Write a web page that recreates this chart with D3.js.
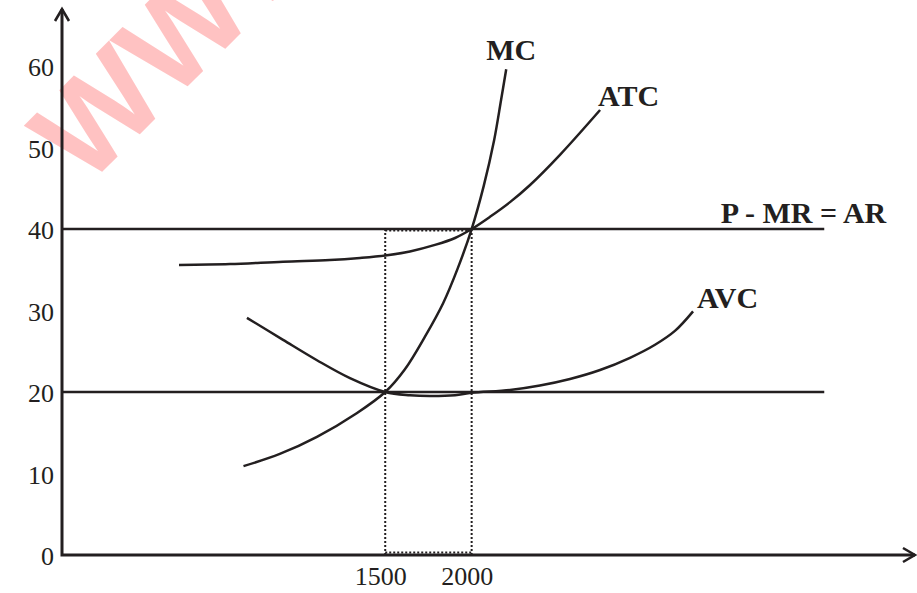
<!DOCTYPE html>
<html>
<head>
<meta charset="utf-8">
<script src="https://cdn.jsdelivr.net/npm/d3@7"></script>
<style>
  body { margin: 0; background: #fff; }
  svg { display: block; }
  .tick text { font-family: "Liberation Serif", "Times New Roman", serif; font-size: 26px; fill: #231f20; }
  .curve-label { font-family: "Liberation Serif", "Times New Roman", serif; font-size: 30px; font-weight: bold; fill: #231f20; }
</style>
</head>
<body>
<div id="chart"></div>
<script>
// tick labels
var priceTicks = [0, 10, 20, 30, 40, 50, 60];
var qtyTicks = [1500, 2000];

// price lines and the two marked quantities
var priceLevels = [40, 20];
var lineStart = -370;
var lineEnd = 4040;

// cost curves, quantity and price
var mcQty = [680, 890, 1105, 1335, 1500, 1614, 1730, 1835, 1920, 2000, 2070, 2130, 2170, 2200];
var mcPrice = [10.9, 12.4, 14.5, 17.4, 20, 22.8, 26.8, 30.9, 35.2, 40, 45.3, 50.9, 55.8, 59.6];

var atcQty = [307, 602, 909, 1180, 1354, 1500, 1643, 1788, 1904, 2000, 2106, 2222, 2338, 2511, 2743];
var atcPrice = [35.6, 35.7, 36.0, 36.2, 36.45, 36.75, 37.25, 38.05, 38.9, 40, 41.5, 43.3, 45.4, 49.1, 54.6];

var avcQty = [700, 909, 1105, 1296, 1500, 1643, 1759, 1904, 2000, 2222, 2395, 2569, 2743, 2916, 3061, 3176, 3281];
var avcPrice = [29.1, 26.4, 23.9, 21.7, 20, 19.6, 19.5, 19.6, 19.9, 20.25, 20.8, 21.6, 22.7, 24.2, 25.8, 27.5, 29.9];

var labels = ["MC", "ATC", "AVC", "P - MR = AR"];

// svg
var width = 917;
var height = 593;
var ink = "#231f20";

var svg = d3
  .select("#chart")
  .append("svg")
  .attr("width", width)
  .attr("height", height);

// scales
var x = d3.scaleLinear().domain([-370, 4565]).range([62, 915]);
var y = d3.scaleLinear().domain([0, 67]).range([555, 9]);

// watermark
svg
  .append("text")
  .attr("transform", "translate(86,188) rotate(-45)")
  .attr("font-family", "Liberation Sans, Arial, sans-serif")
  .attr("font-weight", "bold")
  .attr("font-size", 128)
  .attr("fill", "#ffc2c2")
  .text("WWW");

// axes (ticks only, the arrows are drawn below)
var yAxis = d3.axisLeft(y).tickValues(priceTicks).tickSize(0).tickPadding(8);
var xAxis = d3.axisBottom(x).tickValues(qtyTicks).tickFormat(d3.format("d")).tickSize(0).tickPadding(12);

var yAxisGroup = svg.append("g").attr("transform", "translate(" + x(lineStart) + ",0)").call(yAxis);
yAxisGroup.select(".domain").remove();
yAxisGroup.selectAll("text").attr("dy", "0.38em");

var xAxisGroup = svg.append("g").attr("transform", "translate(0," + y(0) + ")").call(xAxis);
xAxisGroup.select(".domain").remove();
xAxisGroup.selectAll("text").attr("dx", "-5");

// dotted box between 1500 and 2000 up to the price line
var dotted = svg.append("g")
  .attr("fill", "none")
  .attr("stroke", ink)
  .attr("stroke-width", 2)
  .attr("stroke-dasharray", "2,2");

qtyTicks.forEach(function(q) {
  dotted.append("line")
    .attr("x1", x(q)).attr("x2", x(q))
    .attr("y1", y(0)).attr("y2", y(priceLevels[0]));
});
[0, priceLevels[0]].forEach(function(p) {
  var off = p === 0 ? -2.5 : 1.5;
  dotted.append("line")
    .attr("x1", x(qtyTicks[0])).attr("x2", x(qtyTicks[1]))
    .attr("y1", y(p) + off).attr("y2", y(p) + off);
});

// horizontal price lines
svg.selectAll(".price-line")
  .data(priceLevels)
  .enter()
  .append("line")
  .attr("class", "price-line")
  .attr("x1", x(lineStart))
  .attr("x2", x(lineEnd))
  .attr("y1", function(d) { return y(d); })
  .attr("y2", function(d) { return y(d); })
  .attr("stroke", ink)
  .attr("stroke-width", 2.4);

// axis lines with open arrow heads
var x0 = x(lineStart), xEnd = x.range()[1];
var y0 = y(0), yTop = y.range()[1];

svg.append("path")
  .attr("d", "M" + x0 + "," + (y0 + 1.5) + "V" + yTop + "M" + x0 + "," + y0 + "H" + xEnd)
  .attr("fill", "none")
  .attr("stroke", ink)
  .attr("stroke-width", 3);

svg.append("path")
  .attr("d",
    "M" + (x0 - 7) + "," + (yTop + 12) + "L" + x0 + "," + yTop + "L" + (x0 + 7) + "," + (yTop + 12) +
    "M" + (xEnd - 12) + "," + (y0 - 7) + "L" + xEnd + "," + y0 + "L" + (xEnd - 12) + "," + (y0 + 7))
  .attr("fill", "none")
  .attr("stroke", ink)
  .attr("stroke-width", 2.6)
  .attr("stroke-linejoin", "miter");

// cost curves
var curves = [
  { name: labels[0], qty: mcQty, price: mcPrice, dx: -20, dy: -9 },
  { name: labels[1], qty: atcQty, price: atcPrice, dx: -2, dy: -4 },
  { name: labels[2], qty: avcQty, price: avcPrice, dx: 4, dy: -3 }
];

var line = d3.line()
  .x(function(d) { return x(d[0]); })
  .y(function(d) { return y(d[1]); })
  .curve(d3.curveCatmullRom.alpha(0.5));

svg.selectAll(".curve")
  .data(curves)
  .enter()
  .append("path")
  .attr("class", "curve")
  .attr("d", function(d) { return line(d3.zip(d.qty, d.price)); })
  .attr("fill", "none")
  .attr("stroke", ink)
  .attr("stroke-width", 2.5);

// curve labels at the curve ends
svg.selectAll(".curve-label")
  .data(curves)
  .enter()
  .append("text")
  .attr("class", "curve-label")
  .attr("x", function(d) { return x(d.qty[d.qty.length - 1]) + d.dx; })
  .attr("y", function(d) { return y(d.price[d.price.length - 1]) + d.dy; })
  .text(function(d) { return d.name; });

svg.append("text")
  .attr("class", "curve-label")
  .attr("x", x(lineEnd) + 62)
  .attr("y", y(priceLevels[0]) - 6)
  .attr("text-anchor", "end")
  .text(labels[3]);
</script>
</body>
</html>
